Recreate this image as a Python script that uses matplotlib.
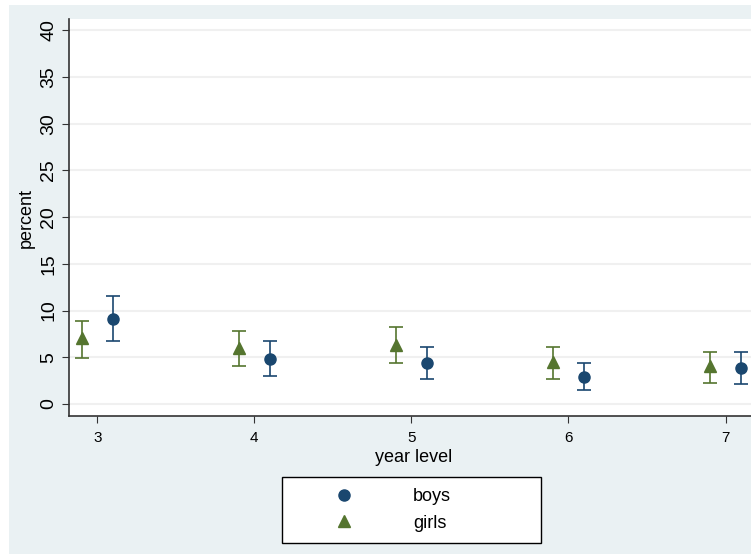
import matplotlib.pyplot as plt
from matplotlib.patches import Rectangle
from matplotlib.lines import Line2D

plt.rcParams['font.family'] = ['Liberation Sans', 'DejaVu Sans']

# data
years = [3, 4, 5, 6, 7]
boys_mean = [9.1, 4.8, 4.4, 2.9, 3.85]
boys_lo = [6.7, 3.0, 2.7, 1.5, 2.1]
boys_hi = [11.55, 6.7, 6.1, 4.4, 5.6]
girls_mean = [7.05, 6.0, 6.3, 4.5, 4.1]
girls_lo = [4.9, 4.1, 4.4, 2.7, 2.25]
girls_hi = [8.9, 7.8, 8.2, 6.1, 5.6]
yticks = [0, 5, 10, 15, 20, 25, 30, 35, 40]

navy = '#1a476f'
green = '#55752f'
bg = '#eaf1f3'

W, H = 751, 554
fig = plt.figure(figsize=(W / 100, H / 100), dpi=100, facecolor='white')
fig.patches.append(Rectangle((9 / W, 0), 1, 1 - 5 / H, transform=fig.transFigure,
                             facecolor=bg, edgecolor='none', zorder=-10))

ax = fig.add_axes([69 / W, 1 - 416 / H, 1 - 69 / W + 0.01, (416 - 19) / H])
ax.set_facecolor('white')

bx = [x + 0.1 for x in years]
gx = [x - 0.1 for x in years]
b_err = [[m - l for m, l in zip(boys_mean, boys_lo)], [h - m for m, h in zip(boys_mean, boys_hi)]]
g_err = [[m - l for m, l in zip(girls_mean, girls_lo)], [h - m for m, h in zip(girls_mean, girls_hi)]]

ax.errorbar(bx, boys_mean, yerr=b_err, fmt='o', color=navy, ms=8, capsize=5,
            elinewidth=1.2, capthick=1.2, zorder=3)
ax.errorbar(gx, girls_mean, yerr=g_err, fmt='^', color=green, ms=9, capsize=5,
            elinewidth=1.2, capthick=1.2, zorder=3)

ax.set_xlim(2.82, 7.21)
ax.set_ylim(-1.28, 41.2)
ax.set_yticks(yticks)
ax.set_xticks(years)
ax.tick_params(axis='y', labelrotation=90, labelsize=14, length=5, color='#333333')
ax.tick_params(axis='x', labelsize=11, length=5, pad=6, color='#333333')
for lab in ax.get_yticklabels():
    lab.set_va('center')
ax.yaxis.grid(True, color='#f0f0f0', lw=1.5)
ax.set_axisbelow(True)
for s in ['top', 'right']:
    ax.spines[s].set_visible(False)
for s in ['left', 'bottom']:
    ax.spines[s].set_color('#333333')
    ax.spines[s].set_linewidth(1.2)

ax.set_xlabel('year level', fontsize=13, labelpad=3)
ax.set_ylabel('percent', fontsize=13, labelpad=4)

handles = [Line2D([], [], ls='none', marker='o', color=navy, ms=8),
           Line2D([], [], ls='none', marker='^', color=green, ms=9)]
leg = fig.legend(handles, ['boys', 'girls'], loc='upper left',
                 bbox_to_anchor=(282 / W, 1 - 542 / H, (541 - 282) / W, (542 - 477) / H),
                 mode='expand', fontsize=13, frameon=True, fancybox=False,
                 edgecolor='black', facecolor='white', framealpha=1,
                 handletextpad=1.0, borderpad=0.6, labelspacing=0.55,
                 handlelength=5.66, borderaxespad=0)
leg.get_frame().set_linewidth(1.0)

fig.savefig('out.png', dpi=100, facecolor=fig.get_facecolor())
